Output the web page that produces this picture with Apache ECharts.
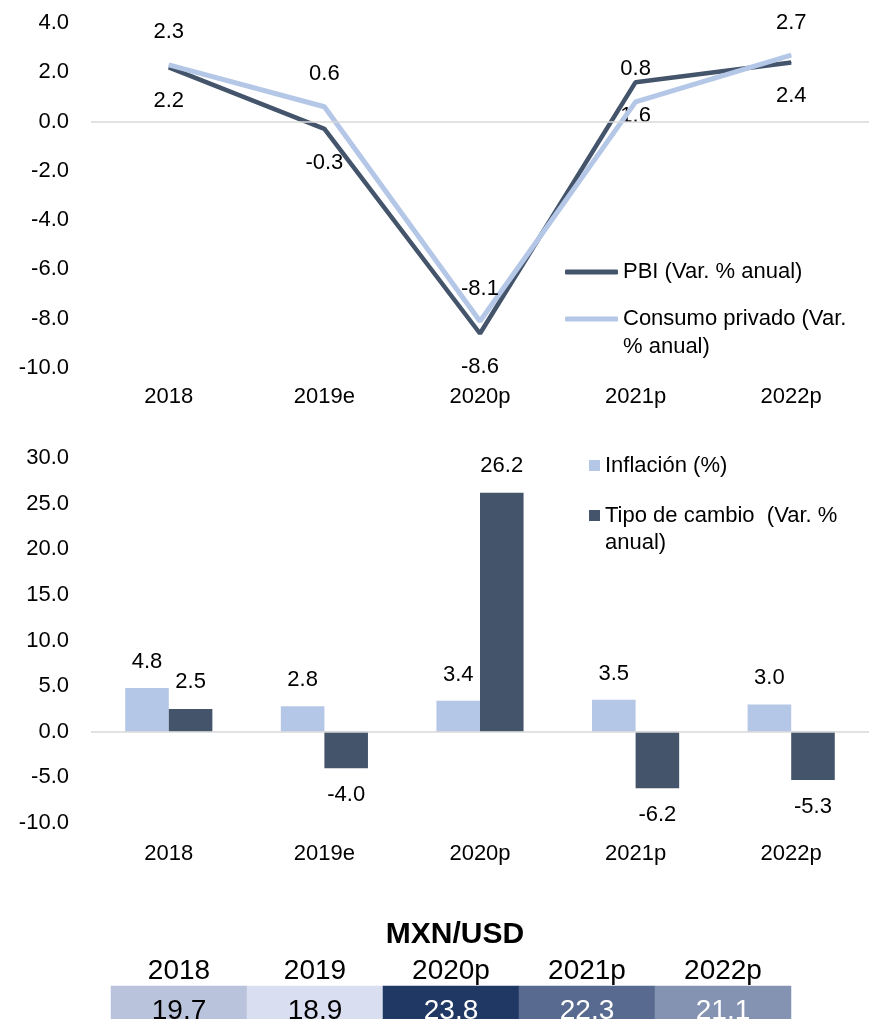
<!DOCTYPE html>
<html>
<head>
<meta charset="utf-8">
<script src="https://cdn.jsdelivr.net/npm/echarts@6/dist/echarts.min.js"></script>
<style>html,body{margin:0;padding:0;background:#fff}#c{width:869px;height:1019px}</style>
</head>
<body>
<div id="c"></div>
<script>
const categories = ['2018', '2019e', '2020p', '2021p', '2022p'];
const pbi = [2.2, -0.3, -8.6, 1.6, 2.4];
const consumo = [2.3, 0.6, -8.1, 0.8, 2.7];
const inflacion = [4.8, 2.8, 3.4, 3.5, 3.0];
const tipoCambio = [2.5, -4.0, 26.2, -6.2, -5.3];
const tableYears = ['2018', '2019', '2020p', '2021p', '2022p'];
const mxnUsd = [19.7, 18.9, 23.8, 22.3, 21.1];
const tableColors = ['#b9c3dc', '#d9dff1', '#203864', '#596a90', '#8593b2'];
const tableTextColors = ['#000', '#000', '#fff', '#fff', '#fff'];
const seriesNames = ['PBI (Var. % anual)', 'Consumo privado (Var. % anual)', 'Inflación (%)', 'Tipo de cambio  (Var. % anual)'];
const legendText = {
  'PBI (Var. % anual)': 'PBI (Var. % anual)',
  'Consumo privado (Var. % anual)': '\nConsumo privado (Var.\n% anual)',
  'Inflación (%)': 'Inflación (%)',
  'Tipo de cambio  (Var. % anual)': '\nTipo de cambio  (Var. %\nanual)'
};

const FONT = "'Liberation Sans', Arial, sans-serif";
const DARK = '#44546a';
const LIGHT = '#b4c7e7';
const FS = 22;

const chart = echarts.init(document.getElementById('c'));
const fmt1 = v => Number(v).toFixed(1);

const option = {
  animation: false,
  textStyle: { fontFamily: FONT, color: '#000' },
  title: {
    text: 'MXN/USD', left: 450, top: 915, textAlign: 'center',
    textStyle: { fontFamily: FONT, fontSize: 30, fontWeight: 'bold', color: '#000' }
  },
  grid: [
    { left: 91, top: 23, width: 785, height: 345 },
    { left: 91, top: 458, width: 785, height: 365 },
    { left: 111, top: 986, width: 680, height: 48 }
  ],
  legend: [
    {
      left: 565, top: 258, orient: 'vertical', padding: 0,
      icon: 'roundRect', itemWidth: 53, itemHeight: 5,
      data: [seriesNames[0]], formatter: n => legendText[n],
      textStyle: { fontFamily: FONT, fontSize: FS, color: '#000', lineHeight: 28 }
    },
    {
      left: 565, top: 277, orient: 'vertical', padding: 0,
      icon: 'roundRect', itemWidth: 53, itemHeight: 5,
      data: [seriesNames[1]], formatter: n => legendText[n],
      textStyle: { fontFamily: FONT, fontSize: FS, color: '#000', lineHeight: 28 }
    },
    {
      left: 589, top: 452, orient: 'vertical', padding: 0,
      icon: 'rect', itemWidth: 11, itemHeight: 11,
      data: [seriesNames[2]], formatter: n => legendText[n],
      textStyle: { fontFamily: FONT, fontSize: FS, color: '#000', lineHeight: 27 }
    },
    {
      left: 589, top: 475, orient: 'vertical', padding: 0,
      icon: 'rect', itemWidth: 11, itemHeight: 11,
      data: [seriesNames[3]], formatter: n => legendText[n],
      textStyle: { fontFamily: FONT, fontSize: FS, color: '#000', lineHeight: 27 }
    }
  ],
  xAxis: [
    {
      gridIndex: 0, type: 'category', data: categories, boundaryGap: true,
      axisLine: { show: false, onZero: false }, axisTick: { show: false },
      axisLabel: { fontFamily: FONT, fontSize: FS, color: '#000', margin: 18 }
    },
    {
      gridIndex: 1, type: 'category', data: categories, boundaryGap: true,
      axisLine: { show: false, onZero: false }, axisTick: { show: false },
      axisLabel: { fontFamily: FONT, fontSize: FS, color: '#000', margin: 20 }
    },
    {
      gridIndex: 2, type: 'category', data: tableYears, position: 'top',
      axisLine: { show: false }, axisTick: { show: false }, splitLine: { show: false },
      axisLabel: { fontFamily: FONT, fontSize: 28, color: '#000', margin: 1 }
    }
  ],
  yAxis: [
    {
      gridIndex: 0, type: 'value', min: -10, max: 4, interval: 2,
      splitLine: { show: false }, axisLine: { show: false }, axisTick: { show: false },
      axisLabel: { fontFamily: FONT, fontSize: FS, color: '#000', margin: 22, formatter: fmt1 }
    },
    {
      gridIndex: 1, type: 'value', min: -10, max: 30, interval: 5,
      splitLine: { show: false }, axisLine: { show: false }, axisTick: { show: false },
      axisLabel: { fontFamily: FONT, fontSize: FS, color: '#000', margin: 22, formatter: fmt1 }
    },
    {
      gridIndex: 2, type: 'category', data: ['MXN/USD'],
      axisLine: { show: false }, axisTick: { show: false }, axisLabel: { show: false }, splitLine: { show: false }
    }
  ],
  series: [
    {
      type: 'line', xAxisIndex: 0, yAxisIndex: 0, data: [], z: 1, silent: true,
      markLine: { silent: true, symbol: 'none', label: { show: false },
        lineStyle: { color: '#d9d9d9', width: 1.5, type: 'solid' }, data: [{ yAxis: 0 }] }
    },
    {
      name: seriesNames[0], type: 'line', xAxisIndex: 0, yAxisIndex: 0, data: pbi, z: 3,
      symbol: 'circle', symbolSize: 1, showSymbol: true,
      lineStyle: { color: DARK, width: 4.5 }, itemStyle: { color: DARK },
      label: { show: true, position: 'bottom', distance: 22, formatter: p => fmt1(p.value),
        fontFamily: FONT, fontSize: FS, color: '#000' }
    },
    {
      name: seriesNames[1], type: 'line', xAxisIndex: 0, yAxisIndex: 0, data: consumo, z: 4,
      symbol: 'circle', symbolSize: 1, showSymbol: true,
      lineStyle: { color: LIGHT, width: 5 }, itemStyle: { color: LIGHT },
      label: { show: true, position: 'top', distance: 21, formatter: p => fmt1(p.value),
        fontFamily: FONT, fontSize: FS, color: '#000' }
    },
    {
      type: 'line', xAxisIndex: 1, yAxisIndex: 1, data: [], z: 5, silent: true,
      markLine: { silent: true, symbol: 'none', label: { show: false },
        lineStyle: { color: '#d9d9d9', width: 1.5, type: 'solid' }, data: [{ yAxis: 0 }] }
    },
    {
      name: seriesNames[2], type: 'bar', xAxisIndex: 1, yAxisIndex: 1, z: 2,
      barGap: '0%', barCategoryGap: '44%',
      itemStyle: { color: LIGHT },
      data: inflacion.map(v => ({ value: v, label: { position: v < 0 ? 'bottom' : 'top' } })),
      label: { show: true, distance: 15, formatter: p => fmt1(p.value),
        fontFamily: FONT, fontSize: FS, color: '#000' }
    },
    {
      name: seriesNames[3], type: 'bar', xAxisIndex: 1, yAxisIndex: 1, z: 2,
      barGap: '0%', barCategoryGap: '44%',
      itemStyle: { color: DARK },
      data: tipoCambio.map(v => ({ value: v, label: { position: v < 0 ? 'bottom' : 'top' } })),
      label: { show: true, distance: 16, formatter: p => fmt1(p.value),
        fontFamily: FONT, fontSize: FS, color: '#000' }
    },
    {
      type: 'heatmap', xAxisIndex: 2, yAxisIndex: 2,
      data: mxnUsd.map((v, i) => ({
        value: [i, 0, v],
        itemStyle: { color: tableColors[i] },
        label: { color: tableTextColors[i] }
      })),
      label: { show: true, offset: [0, 9], formatter: p => fmt1(p.value[2]), fontFamily: FONT, fontSize: 28 },
      emphasis: { disabled: true }
    }
  ]
};
chart.setOption(option);
</script>
</body>
</html>
